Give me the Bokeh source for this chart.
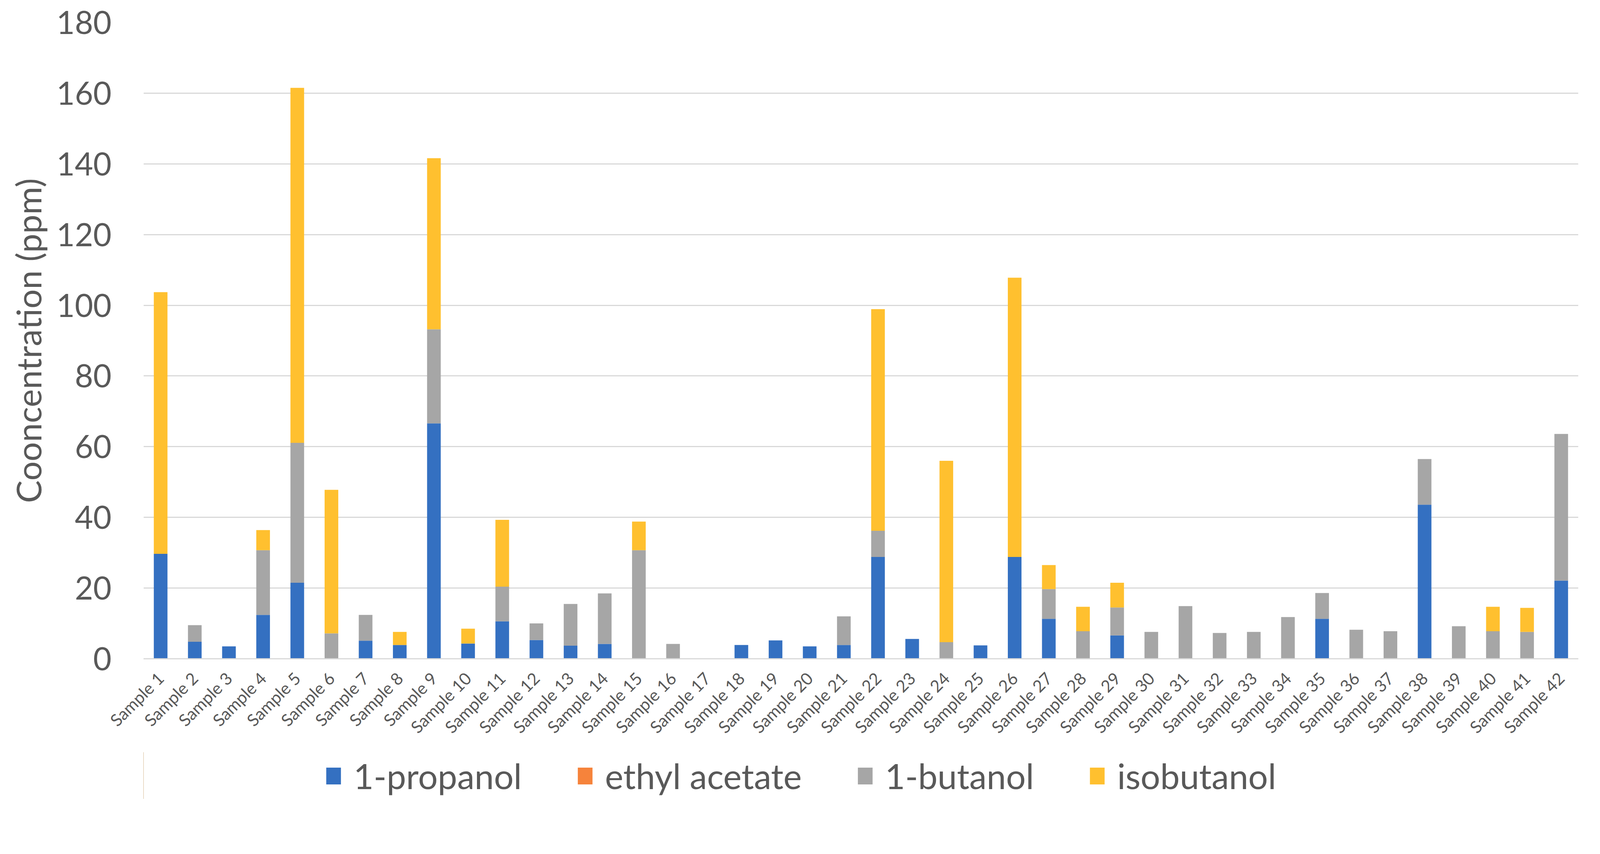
from math import pi
from bokeh.plotting import figure
from bokeh.layouts import column
from bokeh.models import Range1d, FactorRange, FixedTicker, Legend, LegendItem
from bokeh.embed import file_html
from bokeh.resources import INLINE

samples = ["Sample 1", "Sample 2", "Sample 3", "Sample 4", "Sample 5", "Sample 6", "Sample 7",
           "Sample 8", "Sample 9", "Sample 10", "Sample 11", "Sample 12", "Sample 13", "Sample 14",
           "Sample 15", "Sample 16", "Sample 17", "Sample 18", "Sample 19", "Sample 20", "Sample 21",
           "Sample 22", "Sample 23", "Sample 24", "Sample 25", "Sample 26", "Sample 27", "Sample 28",
           "Sample 29", "Sample 30", "Sample 31", "Sample 32", "Sample 33", "Sample 34", "Sample 35",
           "Sample 36", "Sample 37", "Sample 38", "Sample 39", "Sample 40", "Sample 41", "Sample 42"]

propanol = [29.7, 4.8, 3.5, 12.4, 21.5, 0, 5.1, 3.9, 66.6, 4.3, 10.6, 5.3, 3.7, 4.2, 0, 0, 0,
            3.9, 5.2, 3.5, 3.9, 28.8, 5.6, 0, 3.8, 28.8, 11.3, 0, 6.6, 0, 0, 0, 0, 0, 11.3, 0, 0,
            43.6, 0, 0, 0, 22.1]
ethyl_acetate = [0, 0, 0, 0, 0, 0, 0, 0, 0, 0, 0, 0, 0, 0, 0, 0, 0, 0, 0, 0, 0,
                 0, 0, 0, 0, 0, 0, 0, 0, 0, 0, 0, 0, 0, 0, 0, 0, 0, 0, 0, 0, 0]
butanol = [0, 4.7, 0, 18.3, 39.6, 7.2, 7.3, 0, 26.6, 0, 9.8, 4.7, 11.8, 14.3, 30.7, 4.2, 0, 0,
           0, 0, 8.1, 7.4, 0, 4.7, 0, 0, 8.4, 7.8, 7.9, 7.6, 14.9, 7.3, 7.6, 11.8, 7.3, 8.2, 7.8,
           12.9, 9.2, 7.8, 7.6, 41.5]
isobutanol = [74.0, 0, 0, 5.7, 100.4, 40.6, 0, 3.7, 48.4, 4.2, 18.9, 0, 0, 0, 8.1, 0, 0, 0, 0,
              0, 0, 62.7, 0, 51.3, 0, 79.0, 6.8, 6.9, 7.0, 0, 0, 0, 0, 0, 0, 0, 0, 0, 0, 6.9,
              6.8, 0]

series_names = ["1-propanol", "ethyl acetate", "1-butanol", "isobutanol"]
series_keys = ["propanol", "ethyl_acetate", "butanol", "isobutanol"]
colors = ["#3470C1", "#F6833B", "#A6A6A6", "#FFC02F"]
y_ticks = [0, 20, 40, 60, 80, 100, 120, 140, 160, 180]

data = dict(samples=samples, propanol=propanol, ethyl_acetate=ethyl_acetate,
            butanol=butanol, isobutanol=isobutanol)

FONT = "Lato"
TXT = "#595959"

# ---- main chart ----
p = figure(x_range=FactorRange(*samples), y_range=Range1d(0, 180),
           width=4080, height=1924, output_backend="svg", toolbar_location=None,
           min_border_left=367, min_border_right=40, min_border_top=57, min_border_bottom=239)

renderers = p.vbar_stack(series_keys, x="samples", width=0.4, source=data,
                         fill_color=colors, line_color=None)

p.outline_line_color = None
p.background_fill_color = "white"
p.border_fill_color = "white"

p.xgrid.grid_line_color = None
p.ygrid.grid_line_color = "#D9D9D9"
p.ygrid.grid_line_width = 3
p.yaxis.ticker = FixedTicker(ticks=y_ticks)

p.yaxis.axis_line_color = None
p.yaxis.major_tick_line_color = None
p.yaxis.minor_tick_line_color = None
p.yaxis.major_label_text_font = FONT
p.yaxis.major_label_text_font_size = "81px"
p.yaxis.major_label_text_color = TXT
p.yaxis.major_label_standoff = 76
p.yaxis.axis_label = "Cooncentration (ppm)"
p.yaxis.axis_label_text_font = FONT
p.yaxis.axis_label_text_font_size = "87px"
p.yaxis.axis_label_text_font_style = "normal"
p.yaxis.axis_label_text_color = TXT
p.yaxis.axis_label_standoff = 17

p.xaxis.axis_line_color = "#D9D9D9"
p.xaxis.axis_line_width = 3
p.xaxis.major_tick_line_color = None
p.xaxis.minor_tick_line_color = None
p.xaxis.major_label_orientation = pi / 4
p.xaxis.major_label_text_font = FONT
p.xaxis.major_label_text_font_size = "43px"
p.xaxis.major_label_text_color = TXT
p.xaxis.major_label_standoff = 36

# ---- legend strip below the chart ----
lg = figure(width=4080, height=120, output_backend="svg", toolbar_location=None,
            x_range=Range1d(0, 1), y_range=Range1d(0, 1),
            x_axis_location=None, y_axis_location=None,
            min_border_left=0, min_border_right=0, min_border_top=0, min_border_bottom=0)
lg.outline_line_color = None
lg.xgrid.visible = False
lg.ygrid.visible = False
lg.background_fill_color = "white"
lg.border_fill_color = "white"

# zero-width bars outside the visible range, only to carry each legend swatch
legend_renderers = [lg.vbar(x=[-5], top=[1], width=0, fill_color=c, line_color=None)
                    for c in colors]
items = [LegendItem(label=n, renderers=[r]) for n, r in zip(series_names, legend_renderers)]
legend = Legend(items=items, orientation="horizontal", location=(463, 6),
                label_text_font=FONT, label_text_font_size="89px", label_text_color=TXT,
                glyph_width=47, glyph_height=54, label_standoff=28, spacing=138,
                padding=0, margin=0, border_line_color=None, background_fill_alpha=0)
lg.add_layout(legend, "center")

layout = column(p, lg, spacing=0)

open("out.html", "w").write(file_html(layout, INLINE))
